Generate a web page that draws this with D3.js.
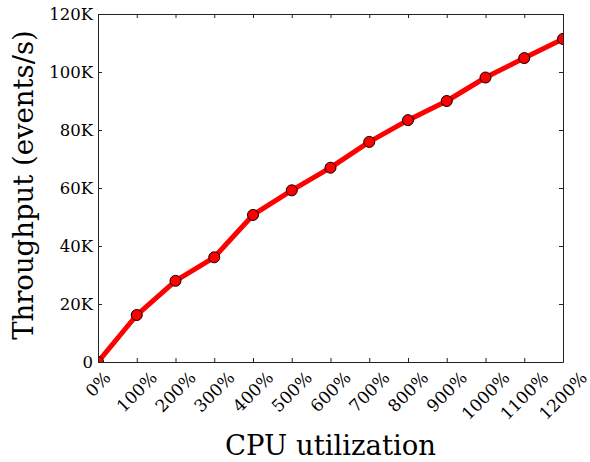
<!DOCTYPE html>
<html>
<head>
<meta charset="utf-8">
<script src="https://cdn.jsdelivr.net/npm/d3@7"></script>
<style>
  body { margin: 0; background: #fff; }
  svg { display: block; }
</style>
</head>
<body>
<div id="chart"></div>
<script>
// CPU utilization (%) vs throughput (events/s)
const cpuUtil = [0, 100, 200, 300, 400, 500, 600, 700, 800, 900, 1000, 1100, 1200];
const throughput = [0, 16200, 28000, 36100, 50700, 59200, 67000, 75900, 83400, 90000, 98100, 104800, 111400];
const yTicks = [0, 20000, 40000, 60000, 80000, 100000, 120000];

const width = 590, height = 462;
const margin = { top: 14, right: 27, bottom: 100, left: 98 };
const font = "DejaVu Serif";

const svg = d3.select("#chart").append("svg")
    .attr("width", width)
    .attr("height", height);

const x = d3.scaleLinear().domain([0, 1200]).range([margin.left, width - margin.right]);
const y = d3.scaleLinear().domain([0, 120000]).range([height - margin.bottom, margin.top]);

const fmtY = d => d === 0 ? "0" : (d / 1000) + "K";

// clip marks to the axes box, like the original
svg.append("clipPath")
    .attr("id", "plot-clip")
    .append("rect")
    .attr("x", x(0))
    .attr("y", y(120000))
    .attr("width", x(1200) - x(0))
    .attr("height", y(0) - y(120000));

// line + markers
const line = d3.line()
    .x((d, i) => x(cpuUtil[i]))
    .y(d => y(d));

const plot = svg.append("g").attr("clip-path", "url(#plot-clip)");

plot.append("path")
    .datum(throughput)
    .attr("d", line)
    .attr("fill", "none")
    .attr("stroke", "#ff0000")
    .attr("stroke-width", 5)
    .attr("stroke-linejoin", "round");

plot.append("g").selectAll("circle")
    .data(throughput)
    .join("circle")
    .attr("cx", (d, i) => x(cpuUtil[i]))
    .attr("cy", d => y(d))
    .attr("r", 5.5)
    .attr("fill", "#ff0000")
    .attr("stroke", "#000")
    .attr("stroke-width", 1);

// ticks pointing inward on all four sides
const tickLen = 4;
svg.append("g")
    .attr("transform", `translate(0,${y(0)})`)
    .call(d3.axisBottom(x).tickValues(cpuUtil).tickSizeInner(-tickLen).tickSizeOuter(0).tickFormat(""));
svg.append("g")
    .attr("transform", `translate(0,${y(120000)})`)
    .call(d3.axisTop(x).tickValues(cpuUtil).tickSizeInner(-tickLen).tickSizeOuter(0).tickFormat(""));
svg.append("g")
    .attr("transform", `translate(${x(0)},0)`)
    .call(d3.axisLeft(y).tickValues(yTicks).tickSizeInner(-tickLen).tickSizeOuter(0).tickFormat(""));
svg.append("g")
    .attr("transform", `translate(${x(1200)},0)`)
    .call(d3.axisRight(y).tickValues(yTicks).tickSizeInner(-tickLen).tickSizeOuter(0).tickFormat(""));

svg.selectAll(".domain, .tick line").attr("stroke", "#222").attr("stroke-width", 1);

// y tick labels
svg.append("g").selectAll("text")
    .data(yTicks)
    .join("text")
    .attr("x", x(0) - 5)
    .attr("y", d => y(d))
    .attr("dy", "0.35em")
    .attr("text-anchor", "end")
    .attr("font-family", font)
    .attr("font-size", 16.5)
    .attr("fill", "#000")
    .text(fmtY);

// x tick labels, rotated 45 degrees and centred under each tick
const xl = svg.append("g").selectAll("text")
    .data(cpuUtil)
    .join("text")
    .attr("text-anchor", "middle")
    .attr("dominant-baseline", "central")
    .attr("font-family", font)
    .attr("font-size", 17)
    .attr("fill", "#000")
    .text(d => d + "%");

xl.each(function(d) {
    const w = this.getComputedTextLength();
    const h = 13;
    const half = (w + h) / (2 * Math.SQRT2);
    const cx = x(d), cy = y(0) + 8 + half;
    d3.select(this).attr("transform", `translate(${cx},${cy}) rotate(-45)`);
});

// axis titles
svg.append("text")
    .attr("x", (x(0) + x(1200)) / 2)
    .attr("y", 455)
    .attr("text-anchor", "middle")
    .attr("font-family", font)
    .attr("font-size", 27.5)
    .text("CPU utilization");

svg.append("text")
    .attr("transform", `translate(33,185) rotate(-90)`)
    .attr("text-anchor", "middle")
    .attr("font-family", font)
    .attr("font-size", 27.5)
    .text("Throughput (events/s)");
</script>
</body>
</html>
